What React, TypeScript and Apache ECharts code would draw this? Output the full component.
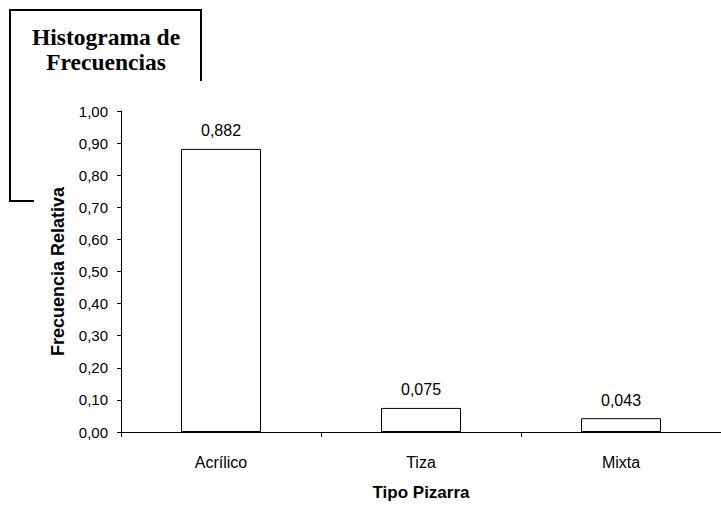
import React, { useEffect, useRef } from "react";
import * as echarts from "echarts";

const categories = ["Acrílico", "Tiza", "Mixta"];
const frecuencias = [0.882, 0.075, 0.043];
const titleLines = ["Histograma de", "Frecuencias"];
const yAxisName = "Frecuencia Relativa";
const xAxisName = "Tipo Pizarra";

export default function App() {
  const ref = useRef<HTMLDivElement>(null);
  useEffect(() => {
    if (!ref.current) return;
    const chart = echarts.init(ref.current, null, { renderer: "svg" });
    chart.setOption({
      animation: false,
      backgroundColor: "#ffffff",
      grid: { left: 121, top: 111, right: 0, bottom: 74, containLabel: false },
      graphic: [
        {
          type: "rect",
          z: -10,
          shape: { x: 10, y: 10, width: 191, height: 191 },
          style: { fill: "#fff", stroke: "#000", lineWidth: 2 },
        },
        {
          type: "rect",
          z: -9,
          shape: { x: 34, y: 81, width: 700, height: 430 },
          style: { fill: "#fff", stroke: null },
        },
        {
          type: "text",
          z: -8,
          x: 106,
          y: 24,
          style: {
            text: titleLines.join("\n"),
            font: "bold 23.5px 'Liberation Serif', 'Times New Roman', serif",
            fill: "#000",
            align: "center",
            verticalAlign: "top",
            lineHeight: 25,
          },
        },
      ],
      xAxis: {
        type: "category",
        data: categories,
        z: 10,
        name: xAxisName,
        nameLocation: "middle",
        nameGap: 52,
        nameTextStyle: { fontFamily: "Liberation Sans, Arial", fontWeight: "bold", fontSize: 17, color: "#000" },
        axisLine: { lineStyle: { color: "#000", width: 1 } },
        axisTick: { show: true, alignWithLabel: false, length: 5, lineStyle: { color: "#000" } },
        axisLabel: { fontFamily: "Liberation Sans, Arial", fontSize: 16, color: "#000", margin: 22 },
      },
      yAxis: {
        type: "value",
        min: 0,
        max: 1,
        interval: 0.1,
        z: 10,
        name: yAxisName,
        nameLocation: "middle",
        nameGap: 54,
        nameRotate: 90,
        nameTextStyle: { fontFamily: "Liberation Sans, Arial", fontWeight: "bold", fontSize: 18, color: "#000" },
        axisLine: { show: true, lineStyle: { color: "#000", width: 1 } },
        axisTick: { show: true, length: 4, lineStyle: { color: "#000" } },
        splitLine: { show: false },
        axisLabel: {
          fontFamily: "Liberation Sans, Arial",
          fontSize: 15,
          color: "#000",
          margin: 13,
          formatter: (v: number) => v.toFixed(2).replace(".", ","),
        },
      },
      series: [
        {
          type: "bar",
          z: 10,
          data: frecuencias,
          barWidth: "40%",
          itemStyle: { color: "#fff", borderColor: "#000", borderWidth: 1 },
          label: {
            show: true,
            position: "top",
            distance: 10,
            fontFamily: "Liberation Sans, Arial",
            fontSize: 16,
            color: "#000",
            formatter: (p: any) => p.value.toFixed(3).replace(".", ","),
          },
        },
      ],
    });
    return () => chart.dispose();
  }, []);
  return (
    <div
      ref={ref}
      style={{ position: "fixed", left: 0, top: 0, width: 721, height: 506 }}
    />
  );
}
